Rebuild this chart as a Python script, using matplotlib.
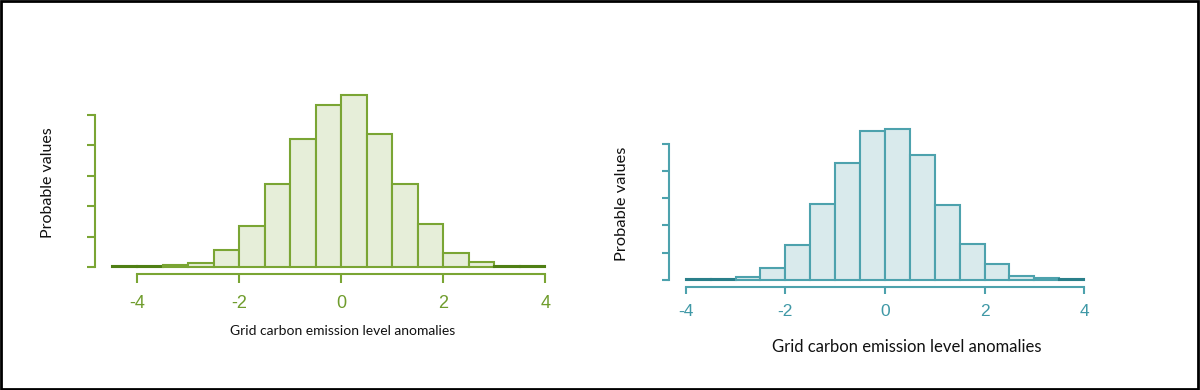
import matplotlib
matplotlib.use("Agg")
import matplotlib.pyplot as plt
from matplotlib.patches import Rectangle

# ---- data ----
left_edges = [-4.5, -4.0, -3.5, -3.0, -2.5, -2.0, -1.5, -1.0, -0.5, 0.0, 0.5, 1.0, 1.5, 2.0, 2.5, 3.0, 3.5]
left_heights = [0.03, 0.03, 0.07, 0.13, 0.58, 1.36, 2.72, 4.21, 5.31, 5.64, 4.37, 2.72, 1.43, 0.46, 0.18, 0.03, 0.03]
right_edges = [-4.0, -3.5, -3.0, -2.5, -2.0, -1.5, -1.0, -0.5, 0.0, 0.5, 1.0, 1.5, 2.0, 2.5, 3.0, 3.5]
right_heights = [0.03, 0.03, 0.10, 0.45, 1.28, 2.77, 4.30, 5.46, 5.54, 4.59, 2.75, 1.32, 0.57, 0.13, 0.07, 0.03]
bin_width = 0.5
x_ticks = [-4, -2, 0, 2, 4]
x_ticklabels = ["-4", "-2", "0", "2", "4"]
y_ticks = [0, 1, 2, 3, 4, 5]
xlabel = "Grid carbon emission level anomalies"
ylabel = "Probable values"

W, H = 1200, 390
fig = plt.figure(figsize=(W / 100, H / 100), dpi=100)
fig.patch.set_facecolor("white")

LABEL_FONT = ["Lato", "DejaVu Sans"]
TICK_FONT = ["Liberation Sans Narrow", "Liberation Sans", "DejaVu Sans"]


def px_axes(left, top, right, bottom):
    return [left / W, 1 - bottom / H, (right - left) / W, (bottom - top) / H]


def panel(rect, edges, heights, xlim, ylim, edge_col, fill_col, dark_col, tick_col,
          ytick_len, xtick_len, xpad, tick_fs):
    ax = fig.add_axes(rect)
    cols = [fill_col if h > 0.05 else dark_col for h in heights]
    ecs = [edge_col if h > 0.05 else dark_col for h in heights]
    ax.bar(edges, heights, width=bin_width, align="edge", color=cols,
           edgecolor=ecs, linewidth=1.5)
    ax.set_xlim(*xlim)
    ax.set_ylim(*ylim)
    for s in ["top", "right"]:
        ax.spines[s].set_visible(False)
    ax.spines["left"].set_bounds(0, 5)
    ax.spines["bottom"].set_bounds(-4, 4)
    for s in ["left", "bottom"]:
        ax.spines[s].set_color(edge_col)
        ax.spines[s].set_linewidth(1.5)
    ax.set_yticks(y_ticks)
    ax.set_yticklabels([])
    ax.set_xticks(x_ticks)
    ax.set_xticklabels(x_ticklabels, family=TICK_FONT, fontsize=tick_fs, color=tick_col)
    ax.tick_params(axis="y", length=ytick_len, width=1.5, color=edge_col)
    ax.tick_params(axis="x", length=xtick_len, width=1.5, color=edge_col, pad=xpad)
    ax.patch.set_alpha(0)
    return ax


# left panel (green)
panel(px_axes(95, 267.3 - 6 * 30.5, 95 + 51 * (4.1 + 4.83), 274),
      left_edges, left_heights, (-4.83, 4.1), (-0.22, 6),
      "#7aa534", "#e6eed9", "#4f7f14", "#6f9c2c", 6, 6.2, 9, 13)

# right panel (teal)
panel(px_axes(669.3, 280 - 6 * 27.3, 669.3 + 49.8 * (4.1 + 4.33), 286.7),
      right_edges, right_heights, (-4.33, 4.1), (-0.245, 6),
      "#4da2ad", "#d9eaec", "#2a7f8a", "#3f98a6", 5, 4.8, 7.5, 12.5)

# axis labels
fig.text(343 / W, 1 - 331 / H, xlabel, ha="center", va="center",
         fontsize=10, family=LABEL_FONT, color="#111111")
fig.text(48 / W, 1 - 183 / H, ylabel, ha="center", va="center", rotation=90,
         fontsize=11.5, family=LABEL_FONT, color="#111111")
fig.text(907 / W, 1 - 347 / H, xlabel, ha="center", va="center",
         fontsize=12, family=LABEL_FONT, color="#111111")
fig.text(622 / W, 1 - 204 / H, ylabel, ha="center", va="center", rotation=90,
         fontsize=11.8, family=LABEL_FONT, color="#111111")

# outer border
fig.add_artist(Rectangle((0.001, 0.003), 0.997, 0.994, transform=fig.transFigure,
                         fill=False, edgecolor="black", linewidth=2))

fig.savefig("out.png", dpi=100)
